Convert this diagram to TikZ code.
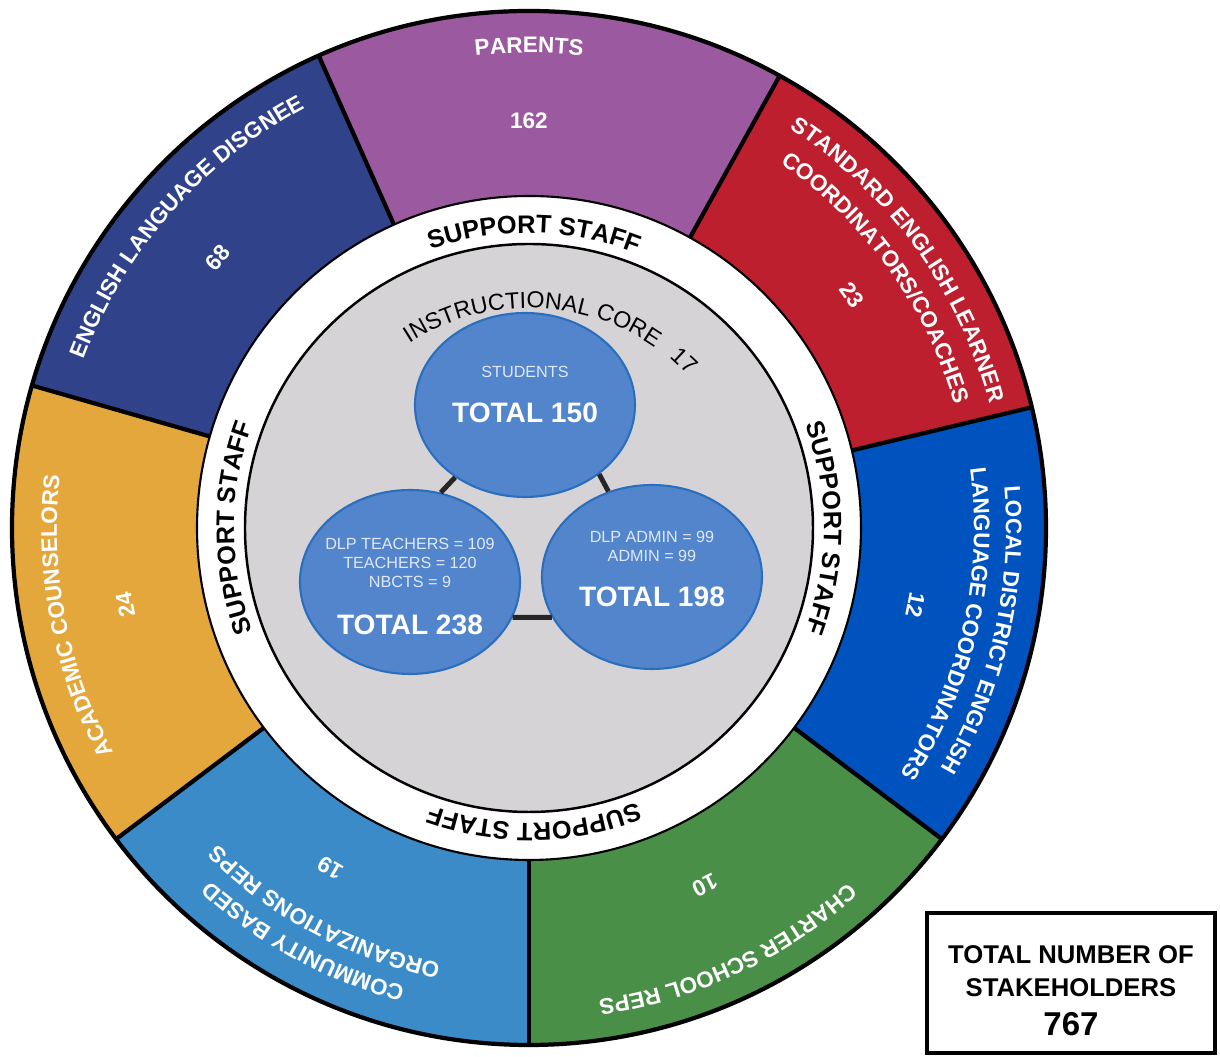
\documentclass[tikz,border=0pt]{standalone}
\usepackage{fontspec}
\setmainfont{Liberation Sans}
\usetikzlibrary{shapes.geometric,decorations.text}

\definecolor{cRed}{RGB}{189,31,47}
\definecolor{cPurple}{RGB}{155,90,160}
\definecolor{cNavy}{RGB}{48,67,138}
\definecolor{cGold}{RGB}{228,167,59}
\definecolor{cSky}{RGB}{58,139,199}
\definecolor{cGreen}{RGB}{74,143,72}
\definecolor{cBlue}{RGB}{0,83,191}
\definecolor{cCore}{RGB}{214,211,214}
\definecolor{cBlob}{RGB}{83,133,205}
\definecolor{cEdge}{RGB}{42,110,190}
\definecolor{cLight}{RGB}{224,232,246}

% text bent along a clockwise arc: format, centre angle, radius, text
\newcommand{\ringtext}[4]{%
  \path[decorate, decoration={text along path, text={|#1|#4}, text align=center}]
    (#2+70:#3) arc[start angle=#2+70, end angle=#2-70, radius=#3];}
\newcommand{\segfont}{\color{white}\bfseries\fontsize{6.4}{7}\selectfont}
\newcommand{\stafffont}{\color{black}\bfseries\fontsize{7.2}{8}\selectfont}
\newcommand{\corefont}{\color{black}\fontsize{6.6}{7}\selectfont}

\begin{document}
\begin{tikzpicture}[
  blob/.style={draw=cEdge, fill=cBlob, ellipse, line width=0.6pt, inner sep=0pt,
    minimum width=2.2cm, minimum height=1.84cm},
  tiny/.style={text=cLight, align=center, font=\fontsize{4.6}{5.5}\selectfont},
  big/.style={text=white, font=\bfseries\fontsize{8}{9}\selectfont},
  num/.style={text=white, font=\bfseries\fontsize{6.4}{7}\selectfont},
  link/.style={line width=1.4pt, black!85}]
\useasboundingbox (-5.29,-5.29) rectangle (6.91,5.28);

% outer ring of stakeholder groups
\foreach \a/\b/\c in {13.5/61/cRed, 61/114/cPurple, 114/164/cNavy, 164/217/cGold,
  217/270/cSky, 270/323/cGreen, 323/373.5/cBlue}{
  \fill[\c] (0,0) -- (\a:5.17) arc[start angle=\a, end angle=\b, radius=5.17] -- cycle;}
\foreach \a in {13.5,61,114,164,217,270,323}{
  \draw[line width=1.2pt] (\a:3) -- (\a:5.17);}
\draw[line width=1.2pt] (0,0) circle[radius=5.17];
\fill[white, draw=black, line width=0.6pt] (0,0) circle[radius=3.32];
\fill[cCore, draw=black, line width=0.7pt] (0,0) circle[radius=2.84];

% group labels
\ringtext{\segfont}{90}{4.75}{PARENTS}
\ringtext{\segfont}{138.7}{4.76}{ENGLISH LANGUAGE DISGNEE}
\ringtext{\segfont}{36}{4.77}{STANDARD ENGLISH LEARNER}
\ringtext{\segfont}{35.8}{4.43}{COORDINATORS/COACHES}
\ringtext{\segfont}{-12.7}{4.77}{LOCAL DISTRICT ENGLISH}
\ringtext{\segfont}{-12.9}{4.45}{LANGUAGE COORDINATORS}
\ringtext{\segfont}{-64.8}{4.77}{CHARTER SCHOOL REPS}
\ringtext{\segfont}{241.4}{4.75}{COMMUNITY BASED}
\ringtext{\segfont}{242}{4.44}{ORGANIZATIONS REPS}
\ringtext{\segfont}{191}{4.72}{ACADEMIC COUNSELORS}

\node[num] (n162) at (90:4.07) {162};
\node[num, rotate=49] (n68) at (139:4.12) {68};
\node[num, rotate=-54.2] (n23) at (35.8:3.98) {23};
\node[num, rotate=-101.3] (n12) at (-11.3:3.94) {12};
\node[num, rotate=-153.8] (n10) at (-63.8:3.98) {10};
\node[num, rotate=149.7] (n19) at (239.7:3.94) {19};
\node[num, rotate=100.8] (n24) at (190.8:4.11) {24};

% support staff ring and core
\foreach \a in {89,0,-89,180}{
  \ringtext{\stafffont}{\a}{2.95}{SUPPORT STAFF}}
\ringtext{\corefont}{89}{2.20}{INSTRUCTIONAL CORE}
\node[font=\fontsize{6.6}{7}\selectfont, rotate=-42.9] (n17) at (47.1:2.29) {17};

% instructional core
\node[blob] (stu) at (-0.04,1.23) {};
\node[blob] (tch) at (-1.19,-0.54) {};
\node[blob] (adm) at (1.23,-0.49) {};
\draw[link] (stu.226) -- (tch.71);
\draw[link] (stu.317) -- (adm.117);
\draw[link] (tch.-19) -- (adm.202);

\node[tiny] (stuA) at ([yshift=0.33cm]stu.center) {STUDENTS};
\node[big] (stuB) at ([yshift=-0.08cm]stu.center) {TOTAL 150};
\node[tiny] (tchA) at ([yshift=0.19cm]tch.center) {DLP TEACHERS = 109\\TEACHERS = 120\\NBCTS = 9};
\node[big] (tchB) at ([yshift=-0.43cm]tch.center) {TOTAL 238};
\node[tiny] (admA) at ([yshift=0.305cm]adm.center) {DLP ADMIN = 99\\ADMIN = 99};
\node[big] (admB) at ([yshift=-0.20cm]adm.center) {TOTAL 198};

% total box
\node[draw, line width=1.1pt, minimum width=2.88cm, minimum height=1.40cm] (total) at (5.42,-4.55) {};
\node[align=center, font=\bfseries\fontsize{7.3}{9.2}\selectfont] (totalT) at ([yshift=-0.08cm]total.center)
  {TOTAL NUMBER OF\\STAKEHOLDERS\\[2pt]{\fontsize{9.4}{10}\selectfont 767}};
\end{tikzpicture}
\end{document}
